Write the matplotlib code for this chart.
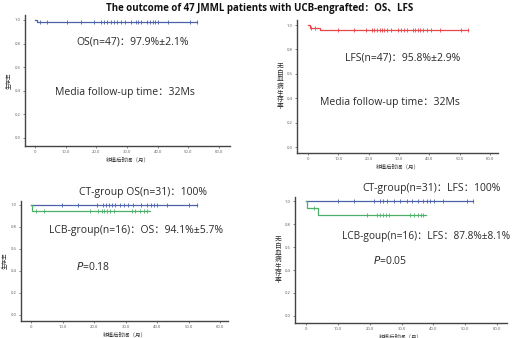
import matplotlib
matplotlib.use("Agg")
import matplotlib.pyplot as plt
import numpy as np

plt.rcParams['font.family'] = ['Open Sans', 'Noto Sans CJK SC', 'DejaVu Sans']

# ---------------- data ----------------
# Panel 1: OS all patients
os_step_t = [0, 0.8]
os_step_s = [1.0, 0.979]
os_cens = [1.6, 4.0, 10.3, 14.9, 19.3, 21.4, 22.5, 23.6, 24.7, 25.8, 26.8, 27.9,
           29.5, 31.3, 32.9, 33.7, 34.6, 36.4, 37.5, 38.4, 39.3, 40.2, 43.5, 50.5, 52.9]
os_end = 52.9

# Panel 2: LFS all patients
lfs_step_t = [0, 0.6, 3.8]
lfs_step_s = [1.0, 0.979, 0.958]
lfs_cens = [1.1, 2.2, 9.9, 15.0, 19.2, 21.0, 21.7, 22.7, 23.6, 24.4, 25.2, 26.1, 27.4,
            29.8, 30.7, 31.6, 32.6, 34.5, 35.4, 36.3, 36.9, 37.8, 39.1, 40.4, 43.5, 50.4, 52.6]
lfs_end = 52.6

# Panel 3: OS by group
os_ct_t = [0]
os_ct_s = [1.0]
os_ct_cens = [9.8, 14.9, 20.9, 23.0, 23.9, 24.7, 25.7, 26.7, 28.3, 29.6, 30.9, 32.5,
              34.9, 36.7, 38.0, 38.9, 39.9, 43.0, 50.2, 52.6]
os_ct_end = 52.6
os_lcb_t = [0, 0.4]
os_lcb_s = [1.0, 0.941]
os_lcb_cens = [1.7, 4.0, 18.8, 21.4, 22.5, 23.2, 24.1, 25.1, 26.2, 32.0, 33.1, 34.6, 35.7, 36.8]
os_lcb_end = 37.9

# Panel 4: LFS by group
lfs_ct_t = [0]
lfs_ct_s = [1.0]
lfs_ct_cens = [10.0, 15.2, 21.2, 23.3, 24.1, 25.4, 27.5, 29.5, 31.6, 33.2, 35.3, 36.8,
               37.9, 38.9, 40.2, 43.0, 50.4, 52.5]
lfs_ct_end = 52.5
lfs_lcb_t = [0, 0.3, 3.9]
lfs_lcb_s = [1.0, 0.938, 0.878]
lfs_lcb_cens = [2.4, 19.1, 22.2, 23.3, 24.1, 25.2, 26.2, 32.7, 33.9, 35.3, 36.0, 36.8]
lfs_lcb_end = 37.6

x_ticks = [0, 10, 20, 30, 40, 50, 60]
x_tick_labels = ['0', '10.0', '20.0', '30.0', '40.0', '50.0', '60.0']
y_ticks = [0.0, 0.2, 0.4, 0.6, 0.8, 1.0]
y_tick_labels = ['0.0', '0.2', '0.4', '0.6', '0.8', '1.0']

title = 'The outcome of 47 JMML patients with UCB-engrafted：OS、LFS'
xlab = '移植后时间（月）'
ylab_os = '生存率'
ylab_lfs = '无白血病生存率'

BLUE = '#4a62a8'
RED = '#e6474a'
GREEN = '#4caf6a'

W, H = 520, 338
fig = plt.figure(figsize=(W / 100, H / 100), dpi=100)


def add_ax(left, top, right, bottom, xlim, ylim):
    ax = fig.add_axes([left / W, 1 - bottom / H, (right - left) / W, (bottom - top) / H])
    ax.set_xlim(*xlim)
    ax.set_ylim(*ylim)
    for s in ['top', 'right']:
        ax.spines[s].set_visible(False)
    for s in ['left', 'bottom']:
        ax.spines[s].set_color('#444444')
        ax.spines[s].set_linewidth(1.0)
    ax.set_xticks(x_ticks)
    ax.set_xticklabels(x_tick_labels)
    ax.set_yticks(y_ticks)
    ax.set_yticklabels(y_tick_labels)
    ax.tick_params(labelsize=3, colors='#555555', length=1.5, width=0.5, pad=1.5)
    ax.set_xlabel(xlab, fontsize=4, color='#333333', labelpad=2)
    return ax


def km(ax, t, s, cens, end, color):
    tt = list(t) + [end]
    ss = list(s) + [s[-1]]
    ax.step(tt, ss, where='post', color=color, lw=0.9)
    cy = [ss[np.searchsorted(tt, c, side='right') - 1] for c in cens]
    ax.plot(cens, cy, linestyle='none', marker='|', color=color, ms=3.5, mew=0.6)


# Panel 1
ax1 = add_ax(25, 15, 230, 146, (-3.26, 63.6), (-0.068, 1.042))
km(ax1, os_step_t, os_step_s, os_cens, os_end, BLUE)
ax1.set_ylabel(ylab_os, fontsize=4, color='#333333', labelpad=3)

# Panel 2
ax2 = add_ax(297, 20, 498, 153, (-3.63, 62.6), (-0.049, 1.041))
km(ax2, lfs_step_t, lfs_step_s, lfs_cens, lfs_end, RED)
ax2.set_ylabel('\n'.join(ylab_lfs), fontsize=4.8, color='#333333', rotation=0,
               labelpad=5, va='center', linespacing=0.95)

# Panel 3
ax3 = add_ax(21, 201, 228, 321, (-3.17, 62.5), (-0.055, 1.036))
km(ax3, os_ct_t, os_ct_s, os_ct_cens, os_ct_end, BLUE)
km(ax3, os_lcb_t, os_lcb_s, os_lcb_cens, os_lcb_end, GREEN)
ax3.set_ylabel(ylab_os, fontsize=4, color='#333333', labelpad=3)

# Panel 4
ax4 = add_ax(295, 197, 507, 323, (-3.46, 63.1), (-0.061, 1.035))
km(ax4, lfs_ct_t, lfs_ct_s, lfs_ct_cens, lfs_ct_end, BLUE)
km(ax4, lfs_lcb_t, lfs_lcb_s, lfs_lcb_cens, lfs_lcb_end, GREEN)
ax4.set_ylabel('\n'.join(ylab_lfs), fontsize=4.8, color='#333333', rotation=0,
               labelpad=5, va='center', linespacing=0.95)


def ptext(x, y, s, size=7.5, **kw):
    fig.text(x / W, 1 - y / H, s, fontsize=size, color='#2a2a2a', va='center', ha='left', **kw)


fig.text(0.5, 1 - 8 / H, title, fontsize=7.0, fontweight='bold', ha='center', va='center',
         color='#111111')

ptext(76, 42, 'OS(n=47)：97.9%±2.1%')
ptext(55, 92, 'Media follow-up time：32Ms')
ptext(345, 58, 'LFS(n=47)：95.8%±2.9%')
ptext(320, 102, 'Media follow-up time：32Ms')
ptext(79, 193, 'CT-group OS(n=31)：100%')
ptext(49, 230, 'LCB-group(n=16)：OS：94.1%±5.7%')
ptext(76, 267, '$\\it{P}$=0.18')
ptext(362, 189, 'CT-group(n=31)：LFS：100%')
ptext(342, 236, 'LCB-goup(n=16)：LFS：87.8%±8.1%', size=7.3)
ptext(373, 261, '$\\it{P}$=0.05')

fig.savefig('out.png', dpi=100)
